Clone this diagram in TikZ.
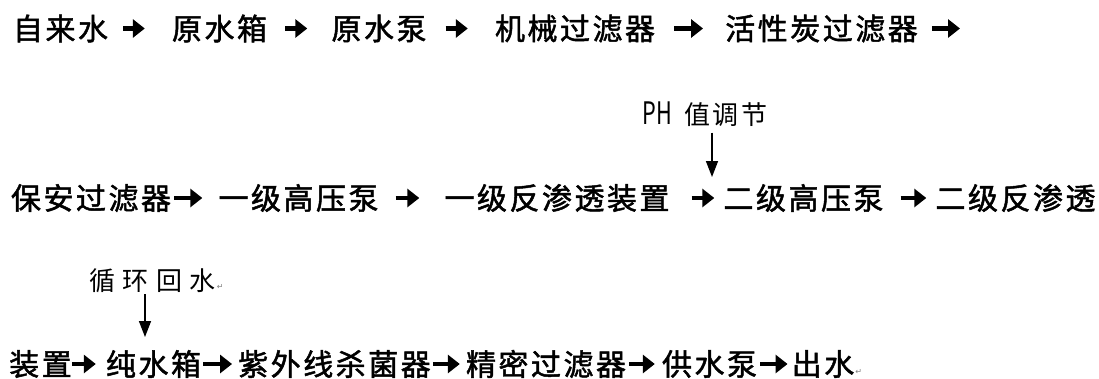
\documentclass[tikz,border=0pt]{standalone}
\usepackage{fontspec}
\newfontfamily\cjk{Noto Sans CJK SC}[FakeBold=1.6]
\newfontfamily\cjkl{Noto Sans CJK SC}
\newfontfamily\dv{DejaVu Sans}
\usetikzlibrary{arrows.meta}
\newcommand\gp{\hspace{2.5pt}}
\newcommand\gq{\hspace{7.5pt}}
\newcommand\pmark{\rlap{\hspace{1pt}\raisebox{1pt}{\dv\fontsize{8}{8}\selectfont\textcolor{gray}{↵}}}}
\begin{document}
\begin{tikzpicture}[x=1pt,y=-1pt,
  txt/.style={inner sep=0pt, font=\cjk\fontsize{30}{32}\selectfont},
  lbl/.style={inner sep=0pt, font=\cjkl\fontsize{26}{28}\selectfont},
  arr/.style={line width=4.2pt, -{Triangle[length=12pt,width=18pt]}},
  downarr/.style={line width=1.5pt, -{Triangle[length=16pt,width=12pt]}}]
\useasboundingbox[fill=white] (0,0) rectangle (1099,378);

% row 1
\node[txt] (a1) at (60.5,28.5) {自\gp 来\gp 水};
\node[txt] (a2) at (219.5,28.5) {原\gp 水\gp 箱};
\node[txt] (a3) at (379,28.5) {原\gp 水\gp 泵};
\node[txt] (a4) at (575,28.5) {机\gp 械\gp 过\gp 滤\gp 器};
\node[txt] (a5) at (821.5,28.5) {活\gp 性\gp 炭\gp 过\gp 滤\gp 器};
\coordinate (a6) at (960,28.5);
\draw[arr, shorten <=15pt, shorten >=27pt] (a1) -- (a2);
\draw[arr, shorten <=18pt, shorten >=24pt] (a2) -- (a3);
\draw[arr, shorten <=19pt, shorten >=27pt] (a3) -- (a4);
\draw[arr, shorten <=19pt, shorten >=22pt] (a4) -- (a5);
\draw[arr, shorten <=14pt] (a5) -- (a6);

% row 2
\node[txt] (b1) at (91,198) {保\gp 安\gp 过\gp 滤\gp 器};
\node[txt] (b2) at (298.5,198) {一\gp 级\gp 高\gp 压\gp 泵};
\node[txt] (b3) at (557,198) {一\gp 级\gp 反\gp 渗\gp 透\gp 装\gp 置};
\node[txt] (b4) at (803.5,198) {二\gp 级\gp 高\gp 压\gp 泵};
\node[txt] (b5) at (1015.5,198) {二\gp 级\gp 反\gp 渗\gp 透};
\draw[arr, shorten <=3pt, shorten >=16pt] (b1) -- (b2);
\draw[arr, shorten <=17pt, shorten >=25pt] (b2) -- (b3);
\draw[arr, shorten <=22pt, shorten >=9pt] (b3) -- (b4);
\draw[arr, shorten <=17pt, shorten >=9pt] (b4) -- (b5);

% pH label
\node[lbl] (ph) at (705,114) {\scalebox{0.7}[1]{\fontsize{31}{31}\selectfont PH}\hspace{12pt}值\gp 调\gp 节};
\coordinate (phtip) at (712,177);
\draw[downarr, shorten <=6pt] (phtip |- ph.south) -- (phtip);

% row 3
\node[lbl] (rec) at (152.5,281) {循\gq 环\gq 回\gq 水\pmark};
\coordinate (rectip) at (145,337);
\draw[downarr, shorten <=1pt] (rectip |- rec.south) -- (rectip);

\node[txt] (c1) at (40.5,364) {装\gp 置};
\node[txt] (c2) at (153.5,364) {纯\gp 水\gp 箱};
\node[txt] (c3) at (334.5,364) {紫\gp 外\gp 线\gp 杀\gp 菌\gp 器};
\node[txt] (c4) at (546,364) {精\gp 密\gp 过\gp 滤\gp 器};
\node[txt] (c5) at (709.5,364) {供\gp 水\gp 泵};
\node[txt] (c6) at (823,364) {出\gp 水\pmark};
\draw[arr, shorten <=0pt, shorten >=10pt] (c1) -- (c2);
\draw[arr, shorten <=2pt, shorten >=6pt] (c2) -- (c3);
\draw[arr, shorten <=2pt, shorten >=6pt] (c3) -- (c4);
\draw[arr, shorten <=3pt, shorten >=7pt] (c4) -- (c5);
\draw[arr, shorten <=3pt, shorten >=4pt] (c5) -- (c6);
\end{tikzpicture}
\end{document}
